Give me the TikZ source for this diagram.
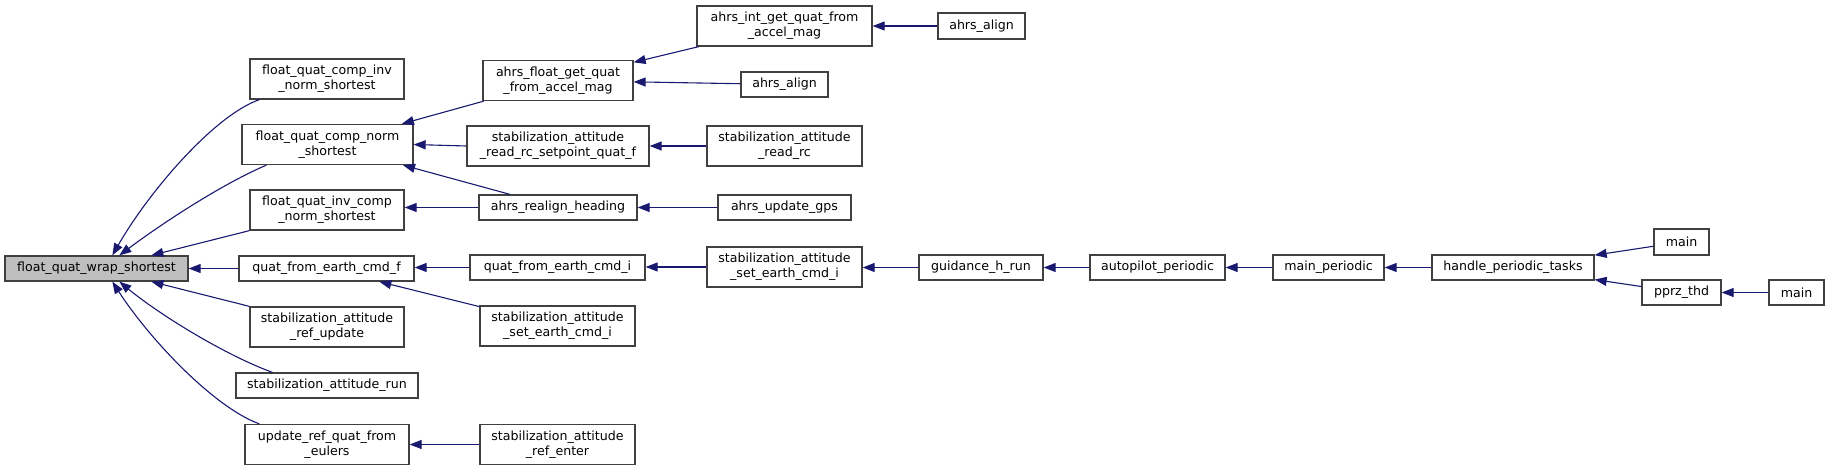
\documentclass[tikz,border=0pt]{standalone}
\usepackage{fontspec}
\setmainfont{DejaVu Sans}
\usetikzlibrary{arrows.meta,calc}
\definecolor{edgecol}{HTML}{191970}
\definecolor{boxcol}{HTML}{404040}
\definecolor{rootfill}{HTML}{BFBFBF}
\begin{document}
\begin{tikzpicture}[x=1pt,y=-1pt,
  box/.style={draw=boxcol,line width=1.3pt,fill=white,inner sep=0pt,align=center,
    font=\fontsize{12.6}{15}\selectfont,text=black},
  edge/.style={draw=edgecol,line width=1.1pt,-{Triangle[length=12pt,width=9pt]}}]
\useasboundingbox (0,0) rectangle (1829,471);
\node[box,fill=rootfill,minimum width=183,minimum height=25] (wrap) at (96.5,268.5) {float\_quat\_wrap\_shortest};
\node[box,minimum width=154,minimum height=40] (invnorm) at (327,79) {float\_quat\_comp\_inv\\\_norm\_shortest};
\node[box,minimum width=171,minimum height=40] (compnorm) at (327.5,144.5) {float\_quat\_comp\_norm\\\_shortest};
\node[box,minimum width=154,minimum height=40] (invcomp) at (327,210) {float\_quat\_inv\_comp\\\_norm\_shortest};
\node[box,minimum width=175,minimum height=25] (qff) at (326.5,268.5) {quat\_from\_earth\_cmd\_f};
\node[box,minimum width=154,minimum height=40] (refupdate) at (327,327) {stabilization\_attitude\\\_ref\_update};
\node[box,minimum width=182,minimum height=25] (run) at (327,385.5) {stabilization\_attitude\_run};
\node[box,minimum width=164,minimum height=40] (updateref) at (327,444.5) {update\_ref\_quat\_from\\\_eulers};
\node[box,minimum width=175,minimum height=40] (ahrsint) at (784.5,26) {ahrs\_int\_get\_quat\_from\\\_accel\_mag};
\node[box,minimum width=150,minimum height=40] (ahrsfloat) at (558,80.5) {ahrs\_float\_get\_quat\\\_from\_accel\_mag};
\node[box,minimum width=87,minimum height=25] (alignA) at (784.5,84.5) {ahrs\_align};
\node[box,minimum width=182,minimum height=40] (readrcsp) at (558,146) {stabilization\_attitude\\\_read\_rc\_setpoint\_quat\_f};
\node[box,minimum width=155,minimum height=40] (readrc) at (784.5,146) {stabilization\_attitude\\\_read\_rc};
\node[box,minimum width=158,minimum height=25] (realign) at (558,207.5) {ahrs\_realign\_heading};
\node[box,minimum width=133,minimum height=25] (updategps) at (784.5,207.5) {ahrs\_update\_gps};
\node[box,minimum width=175,minimum height=25] (qfi) at (557.5,267.5) {quat\_from\_earth\_cmd\_i};
\node[box,minimum width=155,minimum height=40] (seteR) at (784.5,267) {stabilization\_attitude\\\_set\_earth\_cmd\_i};
\node[box,minimum width=155,minimum height=40] (seteL) at (557.5,326) {stabilization\_attitude\\\_set\_earth\_cmd\_i};
\node[box,minimum width=155,minimum height=40] (refenter) at (557.5,444.5) {stabilization\_attitude\\\_ref\_enter};
\node[box,minimum width=87,minimum height=26] (alignB) at (981.5,26) {ahrs\_align};
\node[box,minimum width=124,minimum height=25] (guidance) at (981,267.5) {guidance\_h\_run};
\node[box,minimum width=135,minimum height=25] (autopilot) at (1157.5,267.5) {autopilot\_periodic};
\node[box,minimum width=111,minimum height=25] (mainper) at (1328.5,267.5) {main\_periodic};
\node[box,minimum width=162,minimum height=25] (handle) at (1513,267.5) {handle\_periodic\_tasks};
\node[box,minimum width=55,minimum height=26] (mainA) at (1681.5,242) {main};
\node[box,minimum width=79,minimum height=25] (pprz) at (1681.5,292.5) {pprz\_thd};
\node[box,minimum width=55,minimum height=25] (mainB) at (1796.5,292.5) {main};
% edges into wrap
\draw[edge] ($(invnorm.south west)+(10,0)$) .. controls (215,115) and (150,190) .. ($(wrap.north west)+(108,0)$);
\draw[edge] ($(compnorm.south west)+(25,0)$) .. controls (220,185) and (160,225) .. ($(wrap.north west)+(115,0)$);
\draw[edge] (invcomp.south west) -- ($(wrap.north west)+(147,0)$);
\draw[edge] (qff.west) -- (wrap.east);
\draw[edge] (refupdate.north west) -- ($(wrap.south west)+(147,0)$);
\draw[edge] ($(run.north west)+(37,0)$) .. controls (225,355) and (160,315) .. ($(wrap.south west)+(115,0)$);
\draw[edge] ($(updateref.north west)+(15,0)$) .. controls (215,408) and (150,340) .. ($(wrap.south west)+(108,0)$);
% second level
\draw[edge] (ahrsfloat) -- (compnorm);
\draw[edge] (readrcsp.west) -- (compnorm.east);
\draw[edge] (realign) -- (compnorm);
\draw[edge] (realign.west) -- (invcomp.east |- realign.west);
\draw[edge] (qfi.west) -- (qff.east |- qfi.west);
\draw[edge] (seteL) -- (qff);
\draw[edge] (refenter.west) -- (updateref.east);
% third level
\draw[edge] (ahrsint) -- (ahrsfloat);
\draw[edge] (alignA) -- (ahrsfloat);
\draw[edge] (readrc.west) -- (readrcsp.east);
\draw[edge] (updategps.west) -- (realign.east);
\draw[edge] (seteR.west) -- (qfi.east |- seteR.west);
\draw[edge] (alignB.west) -- (ahrsint.east);
\draw[edge] (guidance.west) -- (seteR.east |- guidance.west);
\draw[edge] (autopilot.west) -- (guidance.east);
\draw[edge] (mainper.west) -- (autopilot.east);
\draw[edge] (handle.west) -- (mainper.east);
\draw[edge] (mainA) -- (handle);
\draw[edge] (pprz) -- (handle);
\draw[edge] (mainB.west) -- (pprz.east);
\end{tikzpicture}
\end{document}
